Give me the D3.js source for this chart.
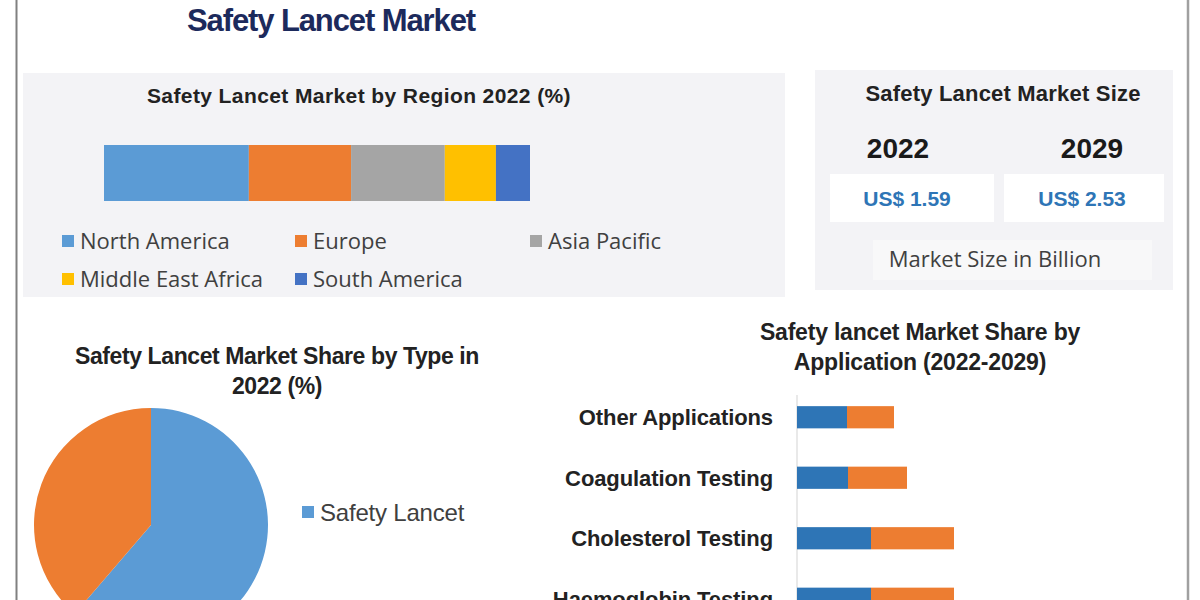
<!DOCTYPE html>
<html><head><meta charset="utf-8">
<script src="https://cdn.jsdelivr.net/npm/d3@7"></script>
<style>
body{margin:0;background:#fff;}
svg{display:block;}
.sans{font-family:"Liberation Sans",Arial,sans-serif;}
.open{font-family:"Open Sans","Noto Sans",sans-serif;}
</style></head>
<body>
<svg id="c" width="1200" height="600"></svg>
<script>
// ---------- data ----------
const regionCategories = ["North America","Europe","Asia Pacific","Middle East Africa","South America"];
const regionShares = [34, 24, 22, 12, 8];
const regionColors = ["#5b9bd5","#ed7d31","#a5a5a5","#ffc000","#4472c4"];

const sizeYears = ["2022","2029"];
const sizeValues = ["US$ 1.59","US$ 2.53"];

const typeCategories = ["Safety Lancet","Standard Lancet"];
const typeShares = [61.3, 38.7];
const typeColors = ["#5b9bd5","#ed7d31"];

const appCategories = ["Other Applications","Coagulation Testing","Cholesterol Testing","Haemoglobin Testing"];
const app2022 = [10, 10.2, 14.8, 14.8];
const app2029 = [9.4, 11.8, 16.6, 16.6];
const appColors = ["#2e75b6","#ed7d31"];

// ---------- drawing ----------
const svg = d3.select("#c");

// frame lines
svg.append("line").attr("x1",16.5).attr("x2",16.5).attr("y1",0).attr("y2",600).attr("stroke","#808080").attr("stroke-width",2);
svg.append("line").attr("x1",1188).attr("x2",1188).attr("y1",0).attr("y2",600).attr("stroke","#a0a0a0").attr("stroke-width",2.5);

// main title
svg.append("text").attr("class","sans").attr("x",331).attr("y",31).attr("text-anchor","middle")
  .attr("font-size",31).attr("font-weight","bold").attr("fill","#1c2a5c").attr("letter-spacing",-1.1)
  .text("Safety Lancet Market");

// ---- Panel 1: region ----
svg.append("rect").attr("x",23).attr("y",73).attr("width",762).attr("height",224).attr("fill","#f3f3f6");
svg.append("text").attr("class","sans").attr("x",359).attr("y",103).attr("text-anchor","middle")
  .attr("font-size",21).attr("font-weight","bold").attr("fill","#222").attr("letter-spacing",0.4)
  .text("Safety Lancet Market by Region 2022 (%)");

const xr = d3.scaleLinear().domain([0,100]).range([104,530]);
let cum = 0;
const stacked = regionShares.map((v,i)=>{const s={start:cum,end:cum+v,c:regionColors[i]};cum+=v;return s;});
svg.append("g").selectAll("rect").data(stacked).join("rect")
  .attr("x",d=>xr(d.start)).attr("width",d=>xr(d.end)-xr(d.start))
  .attr("y",145).attr("height",56).attr("fill",d=>d.c);

const legPos = [[62,241],[295,241],[530,241],[62,279],[295,279]];
const lg = svg.append("g").selectAll("g").data(regionCategories).join("g")
  .attr("transform",(d,i)=>`translate(${legPos[i][0]},${legPos[i][1]})`);
lg.append("rect").attr("x",0).attr("y",-6).attr("width",12).attr("height",12).attr("fill",(d,i)=>regionColors[i]);
lg.append("text").attr("class","open").attr("x",18).attr("y",8).attr("font-size",22).attr("fill","#404040").text(d=>d);

// ---- Panel 2: market size ----
svg.append("rect").attr("x",815).attr("y",70).attr("width",358).attr("height",220).attr("fill","#f3f3f6");
svg.append("text").attr("class","sans").attr("x",1003).attr("y",101).attr("text-anchor","middle")
  .attr("font-size",22).attr("font-weight","bold").attr("fill","#222").attr("letter-spacing",0.2)
  .text("Safety Lancet Market Size");
const boxX = [830,1004], boxW=[164,160];
sizeYears.forEach((y,i)=>{
  svg.append("text").attr("class","sans").attr("x",[898,1092][i]).attr("y",158).attr("text-anchor","middle")
    .attr("font-size",28).attr("font-weight","bold").attr("fill","#1a1a1a").text(y);
  svg.append("rect").attr("x",boxX[i]).attr("y",174).attr("width",boxW[i]).attr("height",48).attr("fill","#ffffff");
  svg.append("text").attr("class","sans").attr("x",boxX[i]+boxW[i]/2-(i?2:5)).attr("y",206).attr("text-anchor","middle")
    .attr("font-size",21).attr("font-weight","bold").attr("fill","#2e75b6").text(sizeValues[i]);
});
svg.append("rect").attr("x",873).attr("y",240).attr("width",279).attr("height",40).attr("fill","#f8f8f9");
svg.append("text").attr("class","open").attr("x",995).attr("y",267).attr("text-anchor","middle")
  .attr("font-size",22).attr("fill","#404040").text("Market Size in Billion");

// ---- Panel 3: pie ----
svg.append("text").attr("class","sans").attr("x",277).attr("y",364).attr("text-anchor","middle")
  .attr("font-size",23).attr("font-weight","bold").attr("fill","#222").attr("letter-spacing",-0.4)
  .text("Safety Lancet Market Share by Type in");
svg.append("text").attr("class","sans").attr("x",277).attr("y",394).attr("text-anchor","middle")
  .attr("font-size",23).attr("font-weight","bold").attr("fill","#222").attr("letter-spacing",-0.4)
  .text("2022 (%)");
const pie = d3.pie().sort(null).value(d=>d)(typeShares);
const arc = d3.arc().innerRadius(0).outerRadius(117);
svg.append("g").attr("transform","translate(151,525)").selectAll("path").data(pie).join("path")
  .attr("d",arc).attr("fill",(d,i)=>typeColors[i]);
const pl = svg.append("g").selectAll("g").data(typeCategories).join("g")
  .attr("transform",(d,i)=>`translate(302,${512+i*97})`);
pl.append("rect").attr("x",0).attr("y",-6).attr("width",12).attr("height",12).attr("fill",(d,i)=>typeColors[i]);
pl.append("text").attr("class","sans").attr("x",18).attr("y",9).attr("font-size",24).attr("fill","#404040").attr("letter-spacing",-0.2).text(d=>d);

// ---- Panel 4: application ----
svg.append("text").attr("class","sans").attr("x",920).attr("y",340).attr("text-anchor","middle")
  .attr("font-size",23).attr("font-weight","bold").attr("fill","#222").attr("letter-spacing",-0.2)
  .text("Safety lancet Market Share by");
svg.append("text").attr("class","sans").attr("x",920).attr("y",370).attr("text-anchor","middle")
  .attr("font-size",23).attr("font-weight","bold").attr("fill","#222").attr("letter-spacing",-0.2)
  .text("Application (2022-2029)");

const xa = d3.scaleLinear().domain([0,60]).range([797,1097]);
const ya = d3.scaleBand().domain(appCategories).range([388,628]).paddingInner(0.633).paddingOuter(0.3);
svg.append("line").attr("x1",797).attr("x2",797).attr("y1",395).attr("y2",600).attr("stroke","#e2e2e2").attr("stroke-width",1.5);
const ag = svg.append("g").selectAll("g").data(appCategories).join("g");
ag.append("rect").attr("x",xa(0)).attr("y",d=>ya(d)).attr("height",ya.bandwidth())
  .attr("width",(d,i)=>xa(app2022[i])-xa(0)).attr("fill",appColors[0]);
ag.append("rect").attr("x",(d,i)=>xa(app2022[i])).attr("y",d=>ya(d)).attr("height",ya.bandwidth())
  .attr("width",(d,i)=>xa(app2022[i]+app2029[i])-xa(app2022[i])).attr("fill",appColors[1]);
ag.append("text").attr("class","sans").attr("x",773).attr("y",d=>ya(d)+ya.bandwidth()/2+8)
  .attr("text-anchor","end").attr("font-size",22).attr("font-weight","bold").attr("fill","#222").attr("letter-spacing",-0.1).text(d=>d);
</script>
</body></html>
